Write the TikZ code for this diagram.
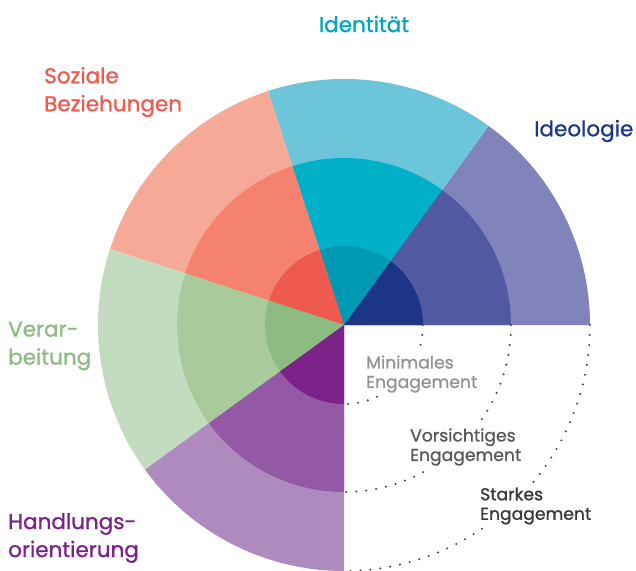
\documentclass[tikz,border=0pt]{standalone}
\usepackage{fontspec}
\setmainfont{Poppins}[FakeBold=1]
\definecolor{ideoA}{HTML}{8184BB}
\definecolor{ideoB}{HTML}{5159A0}
\definecolor{ideoC}{HTML}{1C3586}
\definecolor{idenA}{HTML}{6DC5D9}
\definecolor{idenB}{HTML}{00AFC8}
\definecolor{idenC}{HTML}{0099B4}
\definecolor{sozA}{HTML}{F7A997}
\definecolor{sozB}{HTML}{F5826F}
\definecolor{sozC}{HTML}{EF5A4F}
\definecolor{verA}{HTML}{C3DBBE}
\definecolor{verB}{HTML}{A9CB9C}
\definecolor{verC}{HTML}{8DBC82}
\definecolor{hanA}{HTML}{AF8ABF}
\definecolor{hanB}{HTML}{9459A6}
\definecolor{hanC}{HTML}{7B2388}
\definecolor{idenT}{HTML}{00A3C0}
\definecolor{dotgray}{HTML}{4A4A4A}
\newcommand{\mysector}[4]{\fill[#1] (c) -- ++(#2:#4) arc[start angle=#2, end angle=#3, radius=#4] -- cycle;}
\begin{document}
\begin{tikzpicture}[x=1pt,y=1pt,
  biglabel/.style={anchor=west, align=left, inner sep=0pt, font=\fontsize{21.5}{28}\selectfont},
  englabel/.style={anchor=west, align=left, inner sep=2pt, fill=white, font=\fontsize{17.2}{19.5}\selectfont},
  dotarc/.style={dotgray, line width=2.3pt, line cap=round, dash pattern=on 0pt off 10pt}]
\useasboundingbox (0,-570) rectangle (636,0);
\coordinate (c) at (344,-325);
% outer ring
\mysector{ideoA}{0}{54}{246}
\mysector{idenA}{54}{108}{246}
\mysector{sozA}{108}{162}{246}
\mysector{verA}{162}{216}{246}
\mysector{hanA}{216}{270}{246}
% middle ring
\mysector{ideoB}{0}{54}{167}
\mysector{idenB}{54}{108}{167}
\mysector{sozB}{108}{162}{167}
\mysector{verB}{162}{216}{167}
\mysector{hanB}{216}{270}{167}
% inner ring
\mysector{ideoC}{0}{54}{79}
\mysector{idenC}{54}{108}{79}
\mysector{sozC}{108}{162}{79}
\mysector{verC}{162}{216}{79}
\mysector{hanC}{216}{270}{79}
% dotted arcs
\draw[dotarc] (c) ++(0:79) arc[start angle=0, end angle=-90, radius=79];
\draw[dotarc] (c) ++(0:167) arc[start angle=0, end angle=-90, radius=167];
\draw[dotarc] (c) ++(0:246) arc[start angle=0, end angle=-90, radius=246];
% engagement labels
\node[englabel, text=gray!85] (minimal) at (364,-374) {Minimales\\Engagement};
\node[englabel, text=black!65] (vorsicht) at (408,-447) {Vorsichtiges\\Engagement};
\node[englabel, text=black!78] (stark) at (478,-506) {Starkes\\Engagement};
% category labels
\node[biglabel, text=idenT, anchor=center] (identitaet) at (364,-24) {Identität};
\node[biglabel, text=sozC] (soziale) at (44,-92) {Soziale\\Beziehungen};
\node[biglabel, text=ideoC] (ideologie) at (534,-131) {Ideologie};
\node[biglabel, text=verC] (verarbeitung) at (8,-346) {Verar-\\beitung};
\node[biglabel, text=hanC] (handlungs) at (8,-538) {Handlungs-\\orientierung};
\end{tikzpicture}
\end{document}
